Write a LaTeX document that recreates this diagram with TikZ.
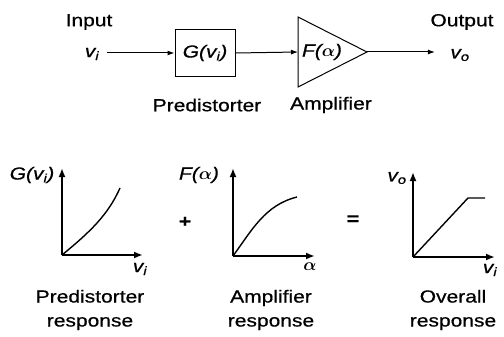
\documentclass[tikz,border=0pt]{standalone}
\usepackage{bm}
\usepackage{fontspec}
\setmainfont{Liberation Sans}[FakeStretch=1.2,FakeBold=0.6]
\usetikzlibrary{arrows.meta}
\begin{document}
\begin{tikzpicture}[x=1pt,y=-1pt,font=\fontsize{17.5}{24}\selectfont,
  sig/.style={-{Latex[length=7pt,width=5pt]},line width=1pt},
  axis/.style={-{Latex[length=9pt,width=7pt]},line width=2pt},
  resp/.style={line width=1.4pt}]
  \useasboundingbox (0,0) rectangle (504,337);
  % block diagram
  \node (in) at (89,22) {Input};
  \node (vi) at (92,54) {\itshape v\textsubscript{i}};
  \node[draw,line width=1pt,minimum width=60pt,minimum height=47pt] (G) at (205,53)
    {\itshape G(v\textsubscript{i})};
  \coordinate (ampT) at (298,17);
  \coordinate (ampB) at (298,87);
  \coordinate (ampIn) at (298,52);
  \coordinate (ampOut) at (367,52);
  \draw[line width=1pt] (ampT)--(ampOut)--(ampB)--cycle;
  \node (F) at (322,52) {\itshape F($\bm{\alpha}$)};
  \node (out) at (462,22) {Output};
  \node (vo) at (460,55) {\itshape v\textsubscript{o}};
  \draw[sig,shorten <=4pt] (vi.east |- G.west) -- (G.west);
  \draw[sig] (G.east) -- (ampIn);
  \draw[sig,shorten >=12pt] (ampOut) -- (vo.west |- ampOut);
  \node (pre) at (207,105) {Predistorter};
  \node (amp) at (331,105) {Amplifier};
  % responses
  \coordinate (o1) at (62,255);
  \coordinate (o2) at (233,256);
  \coordinate (o3) at (413,257);
  \draw[axis] (o1) -- (62,168);
  \draw[axis] (o1) -- (143,255);
  \draw[resp] (o1) .. controls (90,232) and (108,215) .. (120,188);
  \draw[axis] (o2) -- (233,168);
  \draw[axis] (o2) -- (315,256);
  \draw[resp] (o2) .. controls (252,230) and (265,205) .. (297,197);
  \draw[axis] (o3) -- (413,172);
  \draw[axis] (o3) -- (495,257);
  \draw[resp] (o3) -- (468,198) -- (485,198);
  \node at (32,175) {\itshape G(v\textsubscript{i})};
  \node at (140,269) {\itshape v\textsubscript{i}};
  \node at (185,222) {\bfseries +};
  \node at (199,175) {\itshape F($\bm{\alpha}$)};
  \node at (310,267) {$\bm{\alpha}$};
  \node at (353,220) {\bfseries =};
  \node at (397,178) {\itshape v\textsubscript{o}};
  \node at (490,270) {\itshape v\textsubscript{i}};
  \node[align=center] at (90,310) {Predistorter\\response};
  \node[align=center] at (271,310) {Amplifier\\response};
  \node[align=center] at (453,310) {Overall\\response};
\end{tikzpicture}
\end{document}
